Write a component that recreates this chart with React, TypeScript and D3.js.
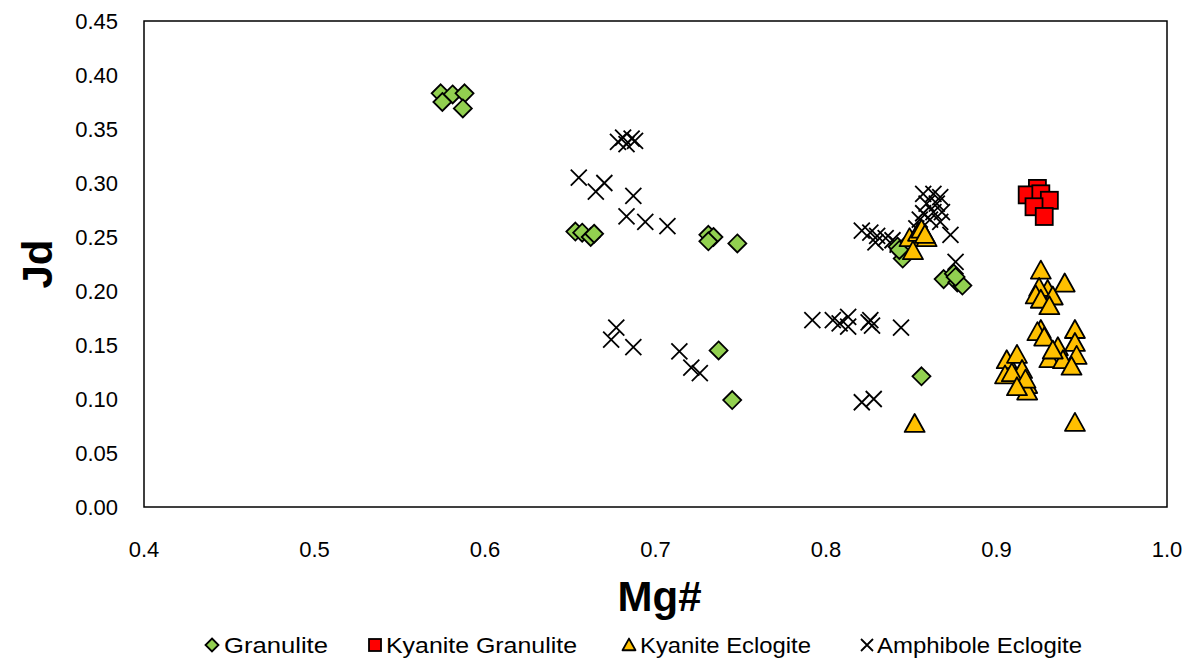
import React from "react";
import * as d3 from "d3";

const xTicks = [0.4, 0.5, 0.6, 0.7, 0.8, 0.9, 1.0];
const yTicks = [0, 0.05, 0.1, 0.15, 0.2, 0.25, 0.3, 0.35, 0.4, 0.45];

const granulite: [number, number][] = [
  [0.574, 0.383], [0.581, 0.382], [0.588, 0.383], [0.575, 0.375], [0.587, 0.369],
  [0.653, 0.255], [0.657, 0.254], [0.662, 0.25], [0.664, 0.253],
  [0.731, 0.252], [0.734, 0.25], [0.731, 0.246], [0.748, 0.244],
  [0.737, 0.145], [0.745, 0.099], [0.856, 0.121],
  [0.842, 0.241], [0.845, 0.235], [0.845, 0.23], [0.843, 0.238],
  [0.869, 0.211], [0.875, 0.216], [0.877, 0.208], [0.88, 0.205], [0.876, 0.213],
];

const kyaniteGranulite: [number, number][] = [
  [0.924, 0.295], [0.918, 0.289], [0.926, 0.29], [0.931, 0.284], [0.922, 0.278], [0.928, 0.269],
];

const kyaniteEclogite: [number, number][] = [
  [0.849, 0.249], [0.854, 0.254], [0.856, 0.257], [0.859, 0.249], [0.851, 0.237], [0.858, 0.252],
  [0.926, 0.219], [0.94, 0.207], [0.93, 0.201], [0.925, 0.203], [0.923, 0.196], [0.933, 0.195], [0.926, 0.192], [0.931, 0.186],
  [0.926, 0.164], [0.924, 0.162], [0.928, 0.157], [0.946, 0.164], [0.936, 0.148], [0.931, 0.137], [0.946, 0.152],
  [0.947, 0.14], [0.939, 0.136], [0.944, 0.13], [0.933, 0.145],
  [0.906, 0.136], [0.912, 0.141], [0.905, 0.122], [0.915, 0.127], [0.909, 0.124], [0.918, 0.113], [0.918, 0.107],
  [0.917, 0.118], [0.912, 0.111],
  [0.852, 0.077], [0.946, 0.078],
];

const amphiboleEclogite: [number, number][] = [
  [0.678, 0.338], [0.681, 0.342], [0.683, 0.336], [0.686, 0.341], [0.688, 0.339],
  [0.655, 0.305], [0.665, 0.292], [0.67, 0.3], [0.687, 0.288], [0.683, 0.269], [0.694, 0.264], [0.707, 0.26],
  [0.677, 0.166], [0.674, 0.155], [0.687, 0.148], [0.714, 0.144], [0.721, 0.129], [0.726, 0.124],
  [0.792, 0.173], [0.804, 0.173], [0.808, 0.17], [0.813, 0.176], [0.813, 0.167], [0.825, 0.171], [0.827, 0.168],
  [0.826, 0.173], [0.844, 0.166],
  [0.821, 0.097], [0.828, 0.1],
  [0.821, 0.256], [0.826, 0.254], [0.83, 0.251], [0.835, 0.249], [0.839, 0.247], [0.829, 0.245], [0.842, 0.243],
  [0.857, 0.29], [0.863, 0.29], [0.867, 0.287], [0.859, 0.281], [0.865, 0.281], [0.857, 0.272], [0.863, 0.273],
  [0.868, 0.273], [0.861, 0.266], [0.867, 0.264], [0.873, 0.252], [0.855, 0.266], [0.853, 0.258], [0.876, 0.227],
];

const legendLabels = ["Granulite", "Kyanite Granulite", "Kyanite Eclogite", "Amphibole Eclogite"];

const W = 1199;
const H = 663;
const M = { left: 144, top: 21, right: 1167, bottom: 507 };
const FONT = "'Liberation Sans', Arial, sans-serif";

function Diamond({ cx, cy, r }: { cx: number; cy: number; r: number }) {
  return (
    <path
      d={`M${cx},${cy - r}L${cx + r},${cy}L${cx},${cy + r}L${cx - r},${cy}Z`}
      fill="#92d050"
      stroke="#000"
      strokeWidth={1.8}
    />
  );
}
function Square({ cx, cy, s }: { cx: number; cy: number; s: number }) {
  return <rect x={cx - s / 2} y={cy - s / 2} width={s} height={s} fill="#ff0000" stroke="#000" strokeWidth={1.8} />;
}
function Triangle({ cx, cy, s }: { cx: number; cy: number; s: number }) {
  const h = s * 0.9;
  return (
    <path
      d={`M${cx},${cy - h * 0.55}L${cx + s / 2},${cy + h * 0.45}L${cx - s / 2},${cy + h * 0.45}Z`}
      fill="#ffc000"
      stroke="#000"
      strokeWidth={1.8}
      strokeLinejoin="round"
    />
  );
}
function Cross({ cx, cy, r }: { cx: number; cy: number; r: number }) {
  return (
    <path
      d={`M${cx - r},${cy - r}L${cx + r},${cy + r}M${cx - r},${cy + r}L${cx + r},${cy - r}`}
      stroke="#000"
      strokeWidth={1.8}
      fill="none"
    />
  );
}

export default function App() {
  const x = d3.scaleLinear().domain([0.4, 1.0]).range([M.left, M.right]);
  const y = d3.scaleLinear().domain([0, 0.45]).range([M.bottom, M.top]);

  const legendX = [205, 374, 628, 867];
  const legendTextX = [224, 386, 640, 877];
  const legendTextLen = [104, 191, 171, 205];
  const ly = 645;

  return (
    <div style={{ position: "absolute", left: 0, top: 0 }}>
      <svg width={W} height={H} style={{ display: "block", background: "#fff" }}>
        <rect x={0} y={0} width={W} height={H} fill="#fff" />
        {/* y tick labels */}
        {yTicks.map((t) => (
          <text key={"y" + t} x={118} y={y(t)} dy="0.35em" textAnchor="end" fontFamily={FONT} fontSize={22} fill="#000">
            {d3.format(".2f")(t)}
          </text>
        ))}
        {/* x tick labels */}
        {xTicks.map((t) => (
          <text key={"x" + t} x={x(t)} y={549} dy="0.35em" textAnchor="middle" fontFamily={FONT} fontSize={22} fill="#000">
            {d3.format(".1f")(t)}
          </text>
        ))}
        {/* axis titles */}
        <text
          transform={`translate(37,${(M.top + M.bottom) / 2}) rotate(-90)`}
          textAnchor="middle"
          dy="0.35em"
          fontFamily={FONT}
          fontWeight="bold"
          fontSize={42}
        >
          Jd
        </text>
        <text x={(M.left + M.right) / 2 + 4} y={596} textAnchor="middle" dy="0.35em" fontFamily={FONT} fontWeight="bold" fontSize={42}>
          Mg#
        </text>

        {/* markers */}
        <g>
          {amphiboleEclogite.map((d, i) => (
            <Cross key={"a" + i} cx={x(d[0])} cy={y(d[1])} r={8} />
          ))}
          {granulite.map((d, i) => (
            <Diamond key={"g" + i} cx={x(d[0])} cy={y(d[1])} r={9} />
          ))}
          {kyaniteGranulite.map((d, i) => (
            <Square key={"k" + i} cx={x(d[0])} cy={y(d[1])} s={17} />
          ))}
          {kyaniteEclogite.map((d, i) => (
            <Triangle key={"e" + i} cx={x(d[0])} cy={y(d[1])} s={20} />
          ))}
        </g>

        {/* plot border */}
        <rect
          x={M.left}
          y={M.top}
          width={M.right - M.left}
          height={M.bottom - M.top}
          fill="none"
          stroke="#000"
          strokeWidth={1.5}
        />

        {/* legend */}
        <Diamond cx={legendX[0] + 7} cy={ly} r={6.5} />
        <Square cx={legendX[1] + 1} cy={ly} s={12} />
        <Triangle cx={legendX[2] + 1} cy={ly} s={13} />
        <Cross cx={legendX[3]} cy={ly} r={6} />
        {legendLabels.map((l, i) => (
          <text
            key={l}
            x={legendTextX[i]}
            y={ly}
            dy="0.35em"
            fontFamily={FONT}
            fontSize={22}
            fill="#000"
            textLength={legendTextLen[i]}
            lengthAdjust="spacingAndGlyphs"
          >
            {l}
          </text>
        ))}
      </svg>
    </div>
  );
}
